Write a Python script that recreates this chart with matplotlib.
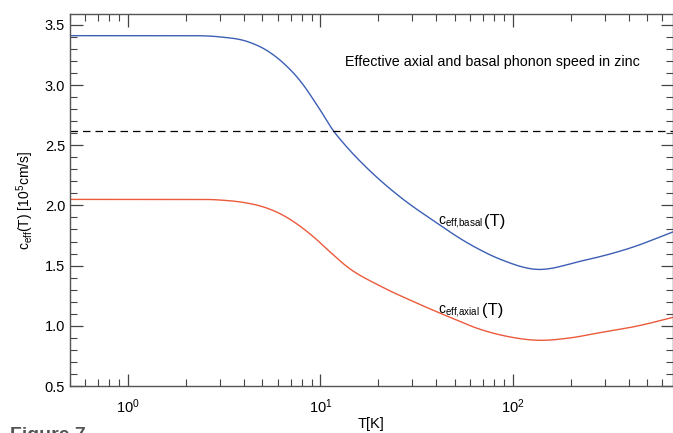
import matplotlib.pyplot as plt
import numpy as np
from matplotlib.ticker import MultipleLocator, LogLocator, NullFormatter

plt.rcParams['font.family'] = ['Liberation Sans', 'DejaVu Sans']
plt.rcParams['mathtext.fontset'] = 'custom'
plt.rcParams['mathtext.rm'] = 'Liberation Sans'
plt.rcParams['mathtext.it'] = 'Liberation Sans'

# temperature [K] and effective phonon speeds [1e5 cm/s]
T_basal = [0.5, 1.0, 2.0, 3.0, 4.2, 5.3, 6.4, 7.9, 9.6, 11.7, 14, 17.5, 26,
           39, 58, 87, 130, 230, 415, 681]
c_basal = [3.41, 3.41, 3.41, 3.40, 3.36, 3.285, 3.185, 3.03, 2.835, 2.62, 2.47, 2.31,
           2.07, 1.87, 1.69, 1.55, 1.47, 1.54, 1.65, 1.78]

T_axial = [0.5, 1.0, 2.0, 3.0, 4.15, 5.0, 6.2, 7.5, 9.2, 11.3, 13.8, 20.5, 30.6,
           45.7, 68, 95, 134, 200, 277, 450, 681]
c_axial = [2.05, 2.05, 2.05, 2.045, 2.02, 1.99, 1.93, 1.85, 1.74, 1.61, 1.49, 1.33,
           1.20, 1.08, 0.97, 0.91, 0.88, 0.90, 0.94, 1.00, 1.07]

c_ref = 2.62


def smooth(T, c, n=500):
    """Cubic Hermite through the points, in log(T)."""
    lt = np.log10(np.asarray(T, float))
    c = np.asarray(c, float)
    h = np.diff(lt)
    d = np.diff(c) / h
    m = np.empty_like(c)
    m[0], m[-1] = d[0], d[-1]
    m[1:-1] = (h[1:] * d[:-1] + h[:-1] * d[1:]) / (h[:-1] + h[1:])
    # keep the low-T plateau flat
    flat = np.r_[d == 0, False] | np.r_[False, d == 0]
    m[flat] = 0
    x = np.linspace(lt[0], lt[-1], n)
    i = np.clip(np.searchsorted(lt, x) - 1, 0, len(lt) - 2)
    t = (x - lt[i]) / h[i]
    y = ((2*t**3 - 3*t**2 + 1) * c[i] + (t**3 - 2*t**2 + t) * h[i] * m[i]
         + (-2*t**3 + 3*t**2) * c[i + 1] + (t**3 - t**2) * h[i] * m[i + 1])
    return 10**x, y


fig = plt.figure(figsize=(6.73, 4.33), dpi=100)
ax = fig.add_axes([70/673, 47/433, 603/673, 372/433])

ax.plot(*smooth(T_basal, c_basal), color='#3c5fb4', lw=1.0)
ax.plot(*smooth(T_axial, c_axial), color='#ec5a3c', lw=1.0)
ax.axhline(c_ref, color='black', lw=0.9, ls=(0, (6, 4)))

ax.set_xscale('log')
ax.set_xlim(0.5, 681)
ax.set_ylim(0.5, 3.59)

ax.yaxis.set_major_locator(MultipleLocator(0.5))
ax.yaxis.set_minor_locator(MultipleLocator(0.1))
ax.yaxis.set_major_formatter(plt.FormatStrFormatter('%.1f'))
ax.xaxis.set_major_locator(LogLocator(base=10, numticks=10))
ax.xaxis.set_minor_locator(LogLocator(base=10, subs=np.arange(2, 10), numticks=20))
ax.xaxis.set_minor_formatter(NullFormatter())

ax.tick_params(which='both', direction='in', top=True, right=True,
               labelsize=10.5, color='#444444')
ax.tick_params(which='major', length=9, width=0.9)
ax.tick_params(which='minor', length=5, width=0.8)
ax.tick_params(axis='x', pad=8)
for s in ax.spines.values():
    s.set_color('#555555')
    s.set_linewidth(1.0)

ax.set_xlabel('T[K]', fontsize=10.5, labelpad=1)
ax.set_ylabel(r'c$_{\mathrm{eff}}$(T) [10$^5$cm/s]', fontsize=10, labelpad=6)

ax.text(0.456, 0.87, 'Effective axial and basal phonon speed in zinc',
        transform=ax.transAxes, fontsize=10.3, va='center', ha='left')
ax.text(41, 1.86, r'c$_{\mathrm{eff{,}basal}}$', fontsize=10, va='center', ha='left')
ax.text(71, 1.87, '(T)', fontsize=12, va='center', ha='left')
ax.text(41, 1.12, r'c$_{\mathrm{eff{,}axial}}$', fontsize=10, va='center', ha='left')
ax.text(69, 1.13, '(T)', fontsize=12, va='center', ha='left')

fig.text(10/673, 6/433, 'Figure 7', fontsize=14, fontweight='bold',
         color='#555555', va='top', ha='left')

fig.savefig('out.png', dpi=100)
